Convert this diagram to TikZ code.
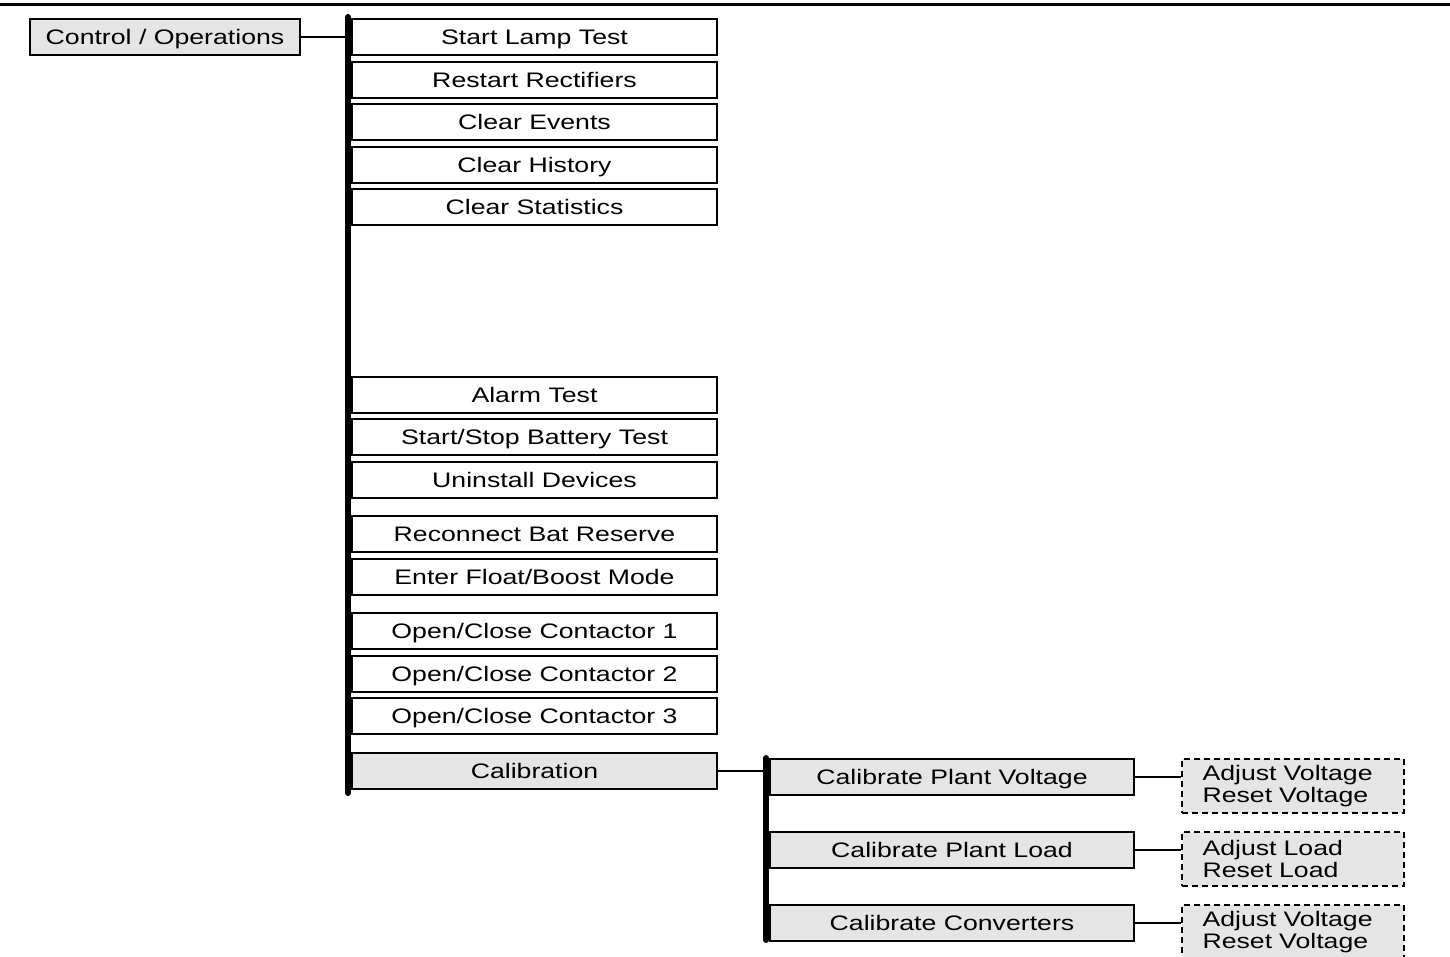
\documentclass[tikz,border=0pt]{standalone}
\usepackage{fontspec}
\setmainfont{Liberation Sans}[FakeStretch=1.27]
\begin{document}
\begin{tikzpicture}[x=1pt,y=-1pt,
  every node/.style={font=\fontsize{21}{22}\selectfont, inner sep=0pt},
  item/.style={draw, line width=1.6pt, minimum width=365pt, minimum height=36pt, text height=15pt, text depth=0pt},
  graybox/.style={item, fill=black!10},
  subbox/.style={draw, line width=1.6pt, fill=black!10, minimum width=364pt, minimum height=36pt, text height=15pt, text depth=0pt},
  leafbox/.style={draw, line width=1.5pt, dash pattern=on 6pt off 4pt, fill=black!10,
     minimum width=222pt, minimum height=54pt, text width=181pt, align=left},
  conn/.style={line width=1.5pt},
  bus/.style={line width=6pt, line cap=round}]
\clip (0,0) rectangle (1450,957);
\fill[white] (0,0) rectangle (1450,957);
% top rule
\coordinate (ruleL) at (0,5);
\coordinate (ruleR) at (1450,5);
\draw[line width=3pt] (ruleL) -- (ruleR);
% root
\node[draw, line width=1.6pt, fill=black!10, minimum width=270pt, minimum height=36pt, text height=15pt, text depth=0pt] (root) at (165,37) {Control / Operations};
% main bus
\coordinate (busA) at (348,17);
\coordinate (busB) at (348,793);
\draw[bus] (busA) -- (busB);
\draw[conn] (root.east) -- (root.east -| busA);
% items
\node[item] (i1) at (534.5,37) {Start Lamp Test};
\node[item] (i2) at (534.5,80) {Restart Rectifiers};
\node[item] (i3) at (534.5,122) {Clear Events};
\node[item] (i4) at (534.5,165) {Clear History};
\node[item] (i5) at (534.5,207) {Clear Statistics};
\node[item] (i6) at (534.5,395) {Alarm Test};
\node[item] (i7) at (534.5,437) {Start/Stop Battery Test};
\node[item] (i8) at (534.5,480) {Uninstall Devices};
\node[item] (i9) at (534.5,534) {Reconnect Bat Reserve};
\node[item] (i10) at (534.5,577) {Enter Float/Boost Mode};
\node[item] (i11) at (534.5,631) {Open/Close Contactor 1};
\node[item] (i12) at (534.5,674) {Open/Close Contactor 2};
\node[item] (i13) at (534.5,716) {Open/Close Contactor 3};
\node[graybox] (cal) at (534.5,771) {Calibration};
% second bus
\coordinate (busC) at (766,758);
\coordinate (busD) at (766,940);
\draw[bus] (busC) -- (busD);
\draw[conn] (cal.east) -- (cal.east -| busC);
\node[subbox] (s1) at (952,777) {Calibrate Plant Voltage};
\node[subbox] (s2) at (952,850) {Calibrate Plant Load};
\node[subbox] (s3) at (952,923) {Calibrate Converters};
% leaves
\node[leafbox] (l1) at (1293,786) {\raisebox{-1.5pt}{Adjust Voltage}\\\raisebox{-1.5pt}{Reset Voltage}};
\node[leafbox] (l2) at (1293,859) {\raisebox{-1.5pt}{Adjust Load}\\\raisebox{-1.5pt}{Reset Load}};
\node[leafbox] (l3) at (1293,932) {\raisebox{-1.5pt}{Adjust Voltage}\\\raisebox{-1.5pt}{Reset Voltage}};
\draw[conn] (s1.east) -- (s1.east -| l1.west);
\draw[conn] (s2.east) -- (s2.east -| l2.west);
\draw[conn] (s3.east) -- (s3.east -| l3.west);
\end{tikzpicture}
\end{document}
